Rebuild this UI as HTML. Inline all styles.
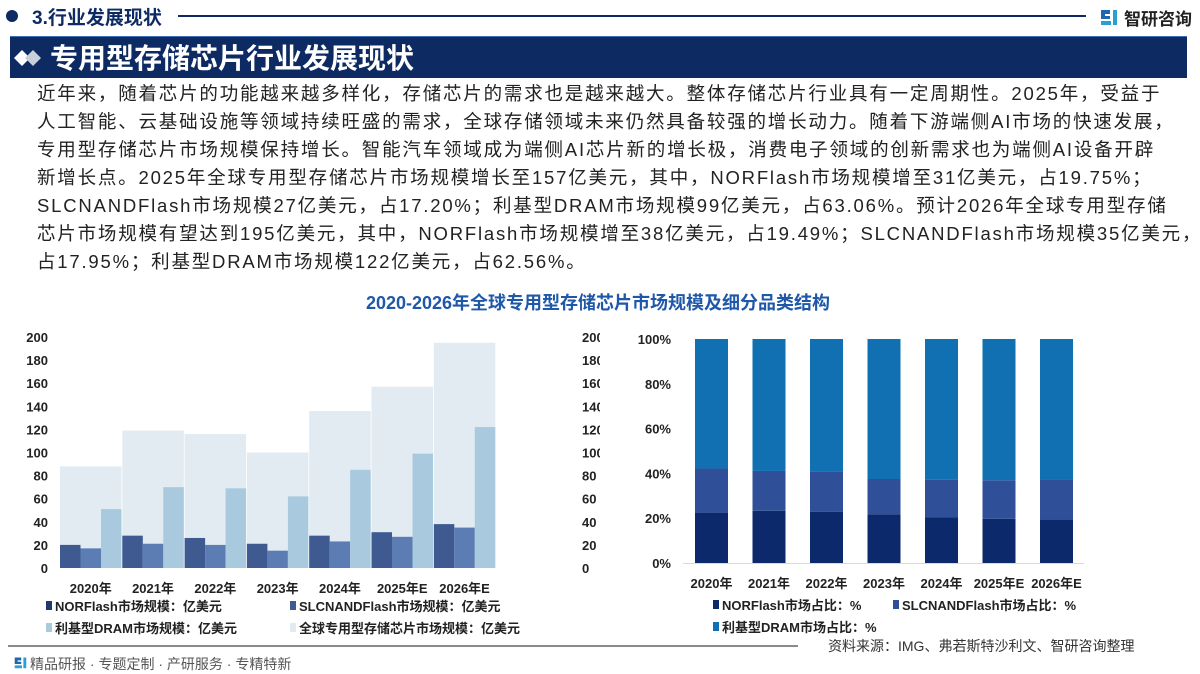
<!DOCTYPE html>
<html><head><meta charset="utf-8">
<style>
*{margin:0;padding:0;box-sizing:border-box}
body{width:1200px;height:672px;background:#fff;font-family:"Liberation Sans","Noto Sans CJK SC",sans-serif;position:relative;overflow:hidden;color:#222}
.abs{position:absolute}
.para div{position:absolute;left:37px;font-size:18.5px;line-height:24px;white-space:nowrap;color:#222;letter-spacing:1.8px}
svg text{font-family:"Liberation Sans","Noto Sans CJK SC",sans-serif}
</style></head><body>
<div class="abs" style="left:6px;top:10px;width:12px;height:12px;border-radius:50%;background:#0d2a63"></div>
<div class="abs" style="left:32px;top:3px;font-size:19px;font-weight:bold;color:#0d2a63">3.行业发展现状</div>
<div class="abs" style="left:178px;top:15px;width:908px;height:1.5px;background:#0d2a63"></div>
<svg class="abs" style="left:1100px;top:8px" width="18" height="18" viewBox="0 0 18 18"><path d="M1 2h9v4H5v2h5v3H1z" fill="#1b67b1"/><path d="M13 2h4v15h-4zM1 13h10v4H1z" fill="#2a9fd6"/></svg>
<div class="abs" style="left:1124px;top:5px;font-size:17px;font-weight:bold;color:#222">智研咨询</div>
<div class="abs" style="left:10px;top:36px;width:1177px;height:42px;background:#0d2a63;border-top:1px solid #3f6fb0"></div>
<svg class="abs" style="left:14px;top:48px" width="30" height="20"><path d="M8 2l8 8-8 8-8-8z" fill="#fff"/><path d="M19 2l8 8-8 8-8-8z" fill="#c9d0dc"/></svg>
<div class="abs" style="left:50px;top:37px;font-size:28px;font-weight:bold;color:#fff">专用型存储芯片行业发展现状</div>
<div class="para">
<div style="top:82px">近年来，随着芯片的功能越来越多样化，存储芯片的需求也是越来越大。整体存储芯片行业具有一定周期性。2025年，受益于</div>
<div style="top:110px">人工智能、云基础设施等领域持续旺盛的需求，全球存储领域未来仍然具备较强的增长动力。随着下游端侧AI市场的快速发展，</div>
<div style="top:138px">专用型存储芯片市场规模保持增长。智能汽车领域成为端侧AI芯片新的增长极，消费电子领域的创新需求也为端侧AI设备开辟</div>
<div style="top:166px">新增长点。2025年全球专用型存储芯片市场规模增长至157亿美元，其中，NORFlash市场规模增至31亿美元，占19.75%；</div>
<div style="top:194px">SLCNANDFlash市场规模27亿美元，占17.20%；利基型DRAM市场规模99亿美元，占63.06%。预计2026年全球专用型存储</div>
<div style="top:222px">芯片市场规模有望达到195亿美元，其中，NORFlash市场规模增至38亿美元，占19.49%；SLCNANDFlash市场规模35亿美元，</div>
<div style="top:250px">占17.95%；利基型DRAM市场规模122亿美元，占62.56%。</div>
</div>
<div class="abs" style="left:0;width:1196px;top:289px;text-align:center;font-size:18px;font-weight:bold;color:#1f58a8">2020-2026年全球专用型存储芯片市场规模及细分品类结构</div>
<svg id="c1" class="abs" style="left:0;top:320px" width="600" height="320"></svg>
<svg id="c2" class="abs" style="left:600px;top:320px" width="600" height="320"></svg>
<div class="abs" style="left:8px;top:645px;width:790px;height:2px;background:#8a8a8a"></div>
<div class="abs" style="left:828px;top:636px;font-size:14px;color:#333">资料来源：IMG、弗若斯特沙利文、智研咨询整理</div>
<svg class="abs" style="left:14px;top:656px" width="13" height="13" viewBox="0 0 18 18"><path d="M1 2h9v4H5v2h5v3H1z" fill="#1b67b1"/><path d="M13 2h4v15h-4zM1 13h10v4H1z" fill="#2a9fd6"/></svg>
<div class="abs" style="left:30px;top:654px;font-size:14px;color:#555">精品研报 · 专题定制 · 产研服务 · 专精特新</div>
<script>
const categories=["2020年","2021年","2022年","2023年","2024年","2025年E","2026年E"];
const norSize=[20,28,26,21,28,31,38];
const slcSize=[17,21,20,15,23,27,35];
const dramSize=[51,70,69,62,85,99,122];
const totalSize=[88,119,116,100,136,157,195];
const sizeTicks=[0,20,40,60,80,100,120,140,160,180,200];
const norShare=[22.5,23.3,22.8,21.7,20.3,19.75,19.49];
const slcShare=[19.7,17.8,18.0,15.8,16.8,17.2,17.95];
const dramShare=[57.8,58.9,59.2,62.5,62.9,63.06,62.56];
const shareTicks=[0,20,40,60,80,100];
const NS="http://www.w3.org/2000/svg";
function mk(svg,tag,at,txt){const e=document.createElementNS(NS,tag);for(const k in at)e.setAttribute(k,at[k]);if(txt!==undefined)e.textContent=txt;svg.appendChild(e);return e;}
// chart 1
const s1=document.getElementById('c1');
const y1=v=>248-v*1.155;
const gx=i=>60+i*62.3, gw=61.5;
sizeTicks.forEach(t=>{
 const a=mk(s1,'text',{x:48,y:y1(t)+5,'text-anchor':'end','font-size':13,'font-weight':'bold',fill:'#222'},t);
 
 const b=mk(s1,'text',{x:582,y:y1(t)+5,'font-size':13,'font-weight':'bold',fill:'#222'},t);
 
});
categories.forEach((c,i)=>{
 const x=gx(i);
 const t=mk(s1,'rect',{x:x,y:y1(totalSize[i]),width:gw,height:totalSize[i]*1.155,fill:'#e3ebf2'});
 
 const series=[[norSize,'#3e5a91','nor-bar'],[slcSize,'#5b7db3','slc-bar'],[dramSize,'#a9c9df','dram-bar']];
 series.forEach((s,j)=>{
  const r=mk(s1,'rect',{x:x+j*gw/3,y:y1(s[0][i]),width:gw/3,height:s[0][i]*1.155,fill:s[1]});
  
 });
 const l=mk(s1,'text',{x:x+gw/2,y:273,'text-anchor':'middle','font-size':13,'font-weight':'bold',fill:'#222'},c);
 
});
[["NORFlash市场规模：亿美元",'#1f3a70',46,288],["SLCNANDFlash市场规模：亿美元",'#3e5a91',290,288],["利基型DRAM市场规模：亿美元",'#a9c9df',46,310],["全球专用型存储芯片市场规模：亿美元",'#e3ebf2',290,310]].forEach(d=>{
 const g=mk(s1,'g',{});
 mk(g,'rect',{x:d[2],y:d[3]-7,width:6,height:9,fill:d[1]});
 mk(g,'text',{x:d[2]+9,y:d[3]+3,'font-size':13,'font-weight':'bold',fill:'#222'},d[0]);
});
// chart 2
const s2=document.getElementById('c2');
const y2=v=>243-v*2.24;
const bx=i=>95+i*57.5, bw=33;
shareTicks.forEach(t=>{
 const a=mk(s2,'text',{x:71,y:y2(t)+5,'text-anchor':'end','font-size':13,'font-weight':'bold',fill:'#222'},t+'%');
 
});
const ax=mk(s2,'line',{x1:83,x2:484,y1:243.5,y2:243.5,stroke:'#d9d9d9'});

categories.forEach((c,i)=>{
 let base=0;
 [[norShare,'#0c2a6b','nor-share-bar'],[slcShare,'#2f4f99','slc-share-bar'],[dramShare,'#1170b2','dram-share-bar']].forEach(s=>{
  const v=s[0][i];
  const r=mk(s2,'rect',{x:bx(i),y:y2(base+v),width:bw,height:v*2.24,fill:s[1]});
  
  base+=v;
 });
 const l=mk(s2,'text',{x:bx(i)+bw/2,y:268,'text-anchor':'middle','font-size':13,'font-weight':'bold',fill:'#222'},c);
 
});
[["NORFlash市场占比：%",'#0c2a6b',113,287],["SLCNANDFlash市场占比：%",'#2f4f99',293,287],["利基型DRAM市场占比：%",'#1170b2',113,309]].forEach(d=>{
 const g=mk(s2,'g',{});
 mk(g,'rect',{x:d[2],y:d[3]-7,width:6,height:9,fill:d[1]});
 mk(g,'text',{x:d[2]+9,y:d[3]+3,'font-size':13,'font-weight':'bold',fill:'#222'},d[0]);
});
</script>
</body></html>
